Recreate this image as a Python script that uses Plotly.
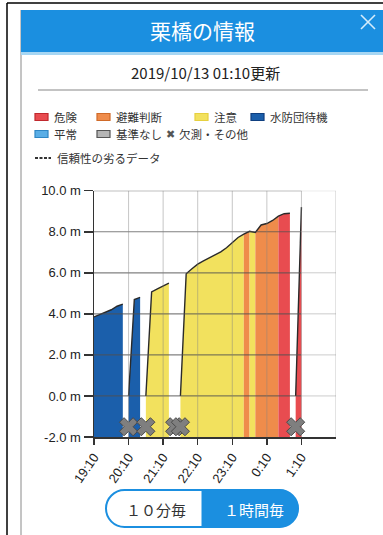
import plotly.graph_objects as go

W, H = 383, 535

# ---------------- data ----------------
times = [
    "2019-10-12 19:10", "2019-10-12 19:20", "2019-10-12 19:30", "2019-10-12 19:40",
    "2019-10-12 19:50", "2019-10-12 20:00", "2019-10-12 20:10", "2019-10-12 20:20",
    "2019-10-12 20:30", "2019-10-12 20:40", "2019-10-12 20:50", "2019-10-12 21:00",
    "2019-10-12 21:10", "2019-10-12 21:20", "2019-10-12 21:30", "2019-10-12 21:40",
    "2019-10-12 21:50", "2019-10-12 22:00", "2019-10-12 22:10", "2019-10-12 22:20",
    "2019-10-12 22:30", "2019-10-12 22:40", "2019-10-12 22:50", "2019-10-12 23:00",
    "2019-10-12 23:10", "2019-10-12 23:20", "2019-10-12 23:30", "2019-10-12 23:40",
    "2019-10-12 23:50", "2019-10-13 00:00", "2019-10-13 00:10", "2019-10-13 00:20",
    "2019-10-13 00:30", "2019-10-13 00:40", "2019-10-13 00:50", "2019-10-13 01:00",
    "2019-10-13 01:10",
]
levels = [
    3.85, 3.97, 4.07, 4.20, 4.37, 4.47, None, 4.70,
    4.80, None, 5.07, 5.22, 5.36, 5.50, None, None,
    5.95, 6.20, 6.42, 6.58, 6.72, 6.86, 7.02, 7.22,
    7.45, 7.72, 7.88, 8.02, 7.97, 8.33, 8.40, 8.55,
    8.76, 8.88, 8.90, None, 9.20,
]
status = [
    "水防団待機", "水防団待機", "水防団待機", "水防団待機", "水防団待機", "水防団待機", "欠測", "水防団待機",
    "水防団待機", "欠測", "注意", "注意", "注意", "注意", "欠測", "欠測",
    "注意", "注意", "注意", "注意", "注意", "注意", "注意", "注意",
    "注意", "注意", "注意", "避難判断", "注意", "避難判断", "避難判断", "避難判断",
    "避難判断", "危険", "危険", "欠測", "危険",
]
x_tick_vals = ["2019-10-12 19:10", "2019-10-12 20:10", "2019-10-12 21:10", "2019-10-12 22:10",
               "2019-10-12 23:10", "2019-10-13 00:10", "2019-10-13 01:10"]
x_tick_text = ["19:10", "20:10", "21:10", "22:10", "23:10", "0:10", "1:10"]
X_END = "2019-10-13 02:10"
y_tick_vals = [-2, 0, 2, 4, 6, 8, 10]
y_tick_text = ["-2.0 m", "0.0 m", "2.0 m", "4.0 m", "6.0 m", "8.0 m", "10.0 m"]
Y_MIN, Y_MAX = -2, 10
MISSING_LINE_LEVEL = 0.0
MISSING_MARK_LEVEL = -1.5

colors = {
    "危険": "#e84c50",
    "避難判断": "#ef8c4b",
    "注意": "#f2e15e",
    "水防団待機": "#1b5fab",
    "平常": "#5aaee6",
    "基準なし": "#b5b5b5",
}
borders = {
    "危険": "#c0282e",
    "避難判断": "#d06a28",
    "注意": "#e6d040",
    "水防団待機": "#0f3f80",
    "平常": "#2f86c4",
    "基準なし": "#555555",
}

JP = "Noto Sans CJK JP"
LAT = "Liberation Sans, Arial, sans-serif"


def px(x):
    return x / W


def py(y):
    return 1 - y / H


# ---------------- segments ----------------
n = len(levels)
segments = []
cur = None
for i in range(n):
    if levels[i] is None:
        cur = [i] if (i + 1 < n and levels[i + 1] is not None) else None
    else:
        if cur is None:
            cur = [i]
        else:
            cur.append(i)
        if i + 1 >= n or levels[i + 1] is None:
            segments.append(cur)
            cur = None


def pv(i):
    return levels[i] if levels[i] is not None else MISSING_LINE_LEVEL


fig = go.Figure()

# area fills, coloured per interval by the status of the interval's end point
for seg in segments:
    k = 0
    while k < len(seg) - 1:
        col = colors[status[seg[k + 1]]]
        start = k
        while k < len(seg) - 1 and colors[status[seg[k + 1]]] == col:
            k += 1
        idx = seg[start:k + 1]
        xs = [times[idx[0]]] + [times[j] for j in idx] + [times[idx[-1]], times[idx[0]]]
        ys = [Y_MIN] + [pv(j) for j in idx] + [Y_MIN, Y_MIN]
        fig.add_trace(go.Scatter(x=xs, y=ys, mode="lines", fill="toself", fillcolor=col,
                                 line=dict(width=0, color=col), hoverinfo="skip", showlegend=False))

# water level line
lx, ly = [], []
for seg in segments:
    lx += [times[j] for j in seg] + [None]
    ly += [pv(j) for j in seg] + [None]
fig.add_trace(go.Scatter(x=lx, y=ly, mode="lines", line=dict(color="#2a2a2a", width=1.4),
                         hoverinfo="skip", showlegend=False, connectgaps=False))

# missing markers
mx = [times[i] for i in range(n) if levels[i] is None]
fig.add_trace(go.Scatter(x=mx, y=[MISSING_MARK_LEVEL] * len(mx), mode="markers",
                         marker=dict(symbol="x", size=16, color="#7f7f7f",
                                     line=dict(color="#4a4a4a", width=1)),
                         hoverinfo="skip", showlegend=False))

shapes = []
# grid lines drawn above the fills
for v in y_tick_vals[1:]:
    shapes.append(dict(type="line", xref="x", yref="y", x0=times[0], x1=times[-1], y0=v, y1=v,
                       line=dict(color="rgba(80,80,80,0.72)", width=1.2), layer="above"))
    shapes.append(dict(type="line", xref="x", yref="y", x0=times[-1], x1=X_END, y0=v, y1=v,
                       line=dict(color="#cccccc", width=1), layer="above"))
for v in x_tick_vals[1:] + [X_END]:
    shapes.append(dict(type="line", xref="x", yref="y", x0=v, x1=v, y0=Y_MIN, y1=Y_MAX,
                       line=dict(color="rgba(128,128,128,0.45)", width=1), layer="above"))

# page chrome
shapes += [
    dict(type="line", xref="paper", yref="paper", x0=px(7), x1=px(7), y0=py(3), y1=py(535),
         line=dict(color="#000000", width=1.5)),
    dict(type="line", xref="paper", yref="paper", x0=px(7), x1=px(383), y0=py(3), y1=py(3),
         line=dict(color="#000000", width=1.5)),
    dict(type="line", xref="paper", yref="paper", x0=px(21), x1=px(21), y0=py(10), y1=py(535),
         line=dict(color="#8a8a8a", width=1)),
    dict(type="rect", xref="paper", yref="paper", x0=px(21), x1=px(383), y0=py(52), y1=py(10),
         fillcolor="#1b8fe0", line=dict(width=0)),
    dict(type="rect", xref="paper", yref="paper", x0=px(21), x1=px(383), y0=py(55), y1=py(52),
         fillcolor="#a6d6f3", line=dict(width=0)),
    dict(type="line", xref="paper", yref="paper", x0=px(361), x1=px(375), y0=py(15), y1=py(29),
         line=dict(color="#d4ecfb", width=1.6)),
    dict(type="line", xref="paper", yref="paper", x0=px(375), x1=px(361), y0=py(15), y1=py(29),
         line=dict(color="#d4ecfb", width=1.6)),
    dict(type="line", xref="paper", yref="paper", x0=px(38), x1=px(368), y0=py(90), y1=py(90),
         line=dict(color="#c3c3c3", width=2)),
]

annotations = [
    dict(text="栗橋の情報", x=px(202), y=py(30), xref="paper", yref="paper", showarrow=False,
         font=dict(family=JP, size=21, color="white"), xanchor="center", yanchor="middle"),
    dict(text="2019/10/13 01:10更新", x=px(205), y=py(73), xref="paper", yref="paper", showarrow=False,
         font=dict(family=JP, size=15, color="#222222"), xanchor="center", yanchor="middle"),
]

# legend
legend_items = [
    ("危険", 35, 117), ("避難判断", 97, 117), ("注意", 195, 117), ("水防団待機", 251, 117),
    ("平常", 35, 134), ("基準なし", 97, 134),
]
for name, lx0, ly0 in legend_items:
    shapes.append(dict(type="rect", xref="paper", yref="paper", x0=px(lx0), x1=px(lx0 + 13),
                       y0=py(ly0 + 3.5), y1=py(ly0 - 3.5), fillcolor=colors[name],
                       line=dict(color=borders[name], width=1.2)))
    annotations.append(dict(text=name, x=px(lx0 + 17), y=py(ly0), xref="paper", yref="paper",
                            showarrow=False, xanchor="left", yanchor="middle",
                            font=dict(family=JP, size=11.5, color="#333333")))
annotations.append(dict(text="✖", x=px(170), y=py(134), xref="paper", yref="paper", showarrow=False,
                        xanchor="center", yanchor="middle", font=dict(family="DejaVu Sans", size=11, color="#555555")))
annotations.append(dict(text="欠測・その他", x=px(177), y=py(134), xref="paper", yref="paper", showarrow=False,
                        xanchor="left", yanchor="middle", font=dict(family=JP, size=11.5, color="#333333")))
shapes.append(dict(type="line", xref="paper", yref="paper", x0=px(35), x1=px(51), y0=py(158), y1=py(158),
                   line=dict(color="#333333", width=2, dash="3px,1.5px")))
annotations.append(dict(text="信頼性の劣るデータ", x=px(55), y=py(158), xref="paper", yref="paper",
                        showarrow=False, xanchor="left", yanchor="middle",
                        font=dict(family=JP, size=11.5, color="#333333")))

# toggle button (pill)
K = 0.5523


def P(x, y):
    return f"{px(x):.5f},{py(y):.5f}"


L, R, T, B = 106, 298, 490, 527
r = (B - T) / 2
cy = (T + B) / 2
MID = 202
outer = (f"M {P(L + r, T)} L {P(R - r, T)} "
         f"C {P(R - r + K * r, T)} {P(R, cy - K * r)} {P(R, cy)} "
         f"C {P(R, cy + K * r)} {P(R - r + K * r, B)} {P(R - r, B)} "
         f"L {P(L + r, B)} "
         f"C {P(L + r - K * r, B)} {P(L, cy + K * r)} {P(L, cy)} "
         f"C {P(L, cy - K * r)} {P(L + r - K * r, T)} {P(L + r, T)} Z")
right = (f"M {P(MID, T)} L {P(R - r, T)} "
         f"C {P(R - r + K * r, T)} {P(R, cy - K * r)} {P(R, cy)} "
         f"C {P(R, cy + K * r)} {P(R - r + K * r, B)} {P(R - r, B)} "
         f"L {P(MID, B)} Z")
shapes.append(dict(type="path", xref="paper", yref="paper", path=outer, fillcolor="white",
                   line=dict(color="#1b8fe0", width=2)))
shapes.append(dict(type="path", xref="paper", yref="paper", path=right, fillcolor="#1b8fe0",
                   line=dict(color="#1b8fe0", width=1)))
annotations.append(dict(text="１０分毎", x=px(156), y=py(509), xref="paper", yref="paper", showarrow=False,
                        xanchor="center", yanchor="middle", font=dict(family=JP, size=15, color="#333333")))
annotations.append(dict(text="１時間毎", x=px(254), y=py(509), xref="paper", yref="paper", showarrow=False,
                        xanchor="center", yanchor="middle", font=dict(family=JP, size=15, color="white")))

fig.update_layout(
    width=W, height=H,
    margin=dict(l=0, r=0, t=0, b=0),
    paper_bgcolor="white", plot_bgcolor="white",
    showlegend=False,
    shapes=shapes,
    annotations=annotations,
    xaxis=dict(
        domain=[px(94), px(336)], type="date", range=[times[0], X_END],
        tickvals=x_tick_vals, ticktext=x_tick_text, tickangle=-55,
        ticks="outside", ticklen=6, tickcolor="#333333", tickwidth=1.5,
        showline=True, linecolor="#333333", linewidth=1.5,
        showgrid=False, zeroline=False, automargin=False,
        tickfont=dict(family=LAT, size=13, color="#222222"),
    ),
    yaxis=dict(
        domain=[py(437), py(190.7)], range=[Y_MIN, Y_MAX],
        tickvals=y_tick_vals, ticktext=y_tick_text,
        ticks="outside", ticklen=9, tickcolor="#333333", tickwidth=1.5,
        showline=True, linecolor="#333333", linewidth=1.5,
        showgrid=False, zeroline=False, automargin=False,
        tickfont=dict(family=LAT, size=13, color="#222222"),
    ),
)

fig.write_html("out.html", config={"displayModeBar": False, "staticPlot": True},
               post_script="document.body.style.margin='0';document.body.style.overflow='hidden';")
